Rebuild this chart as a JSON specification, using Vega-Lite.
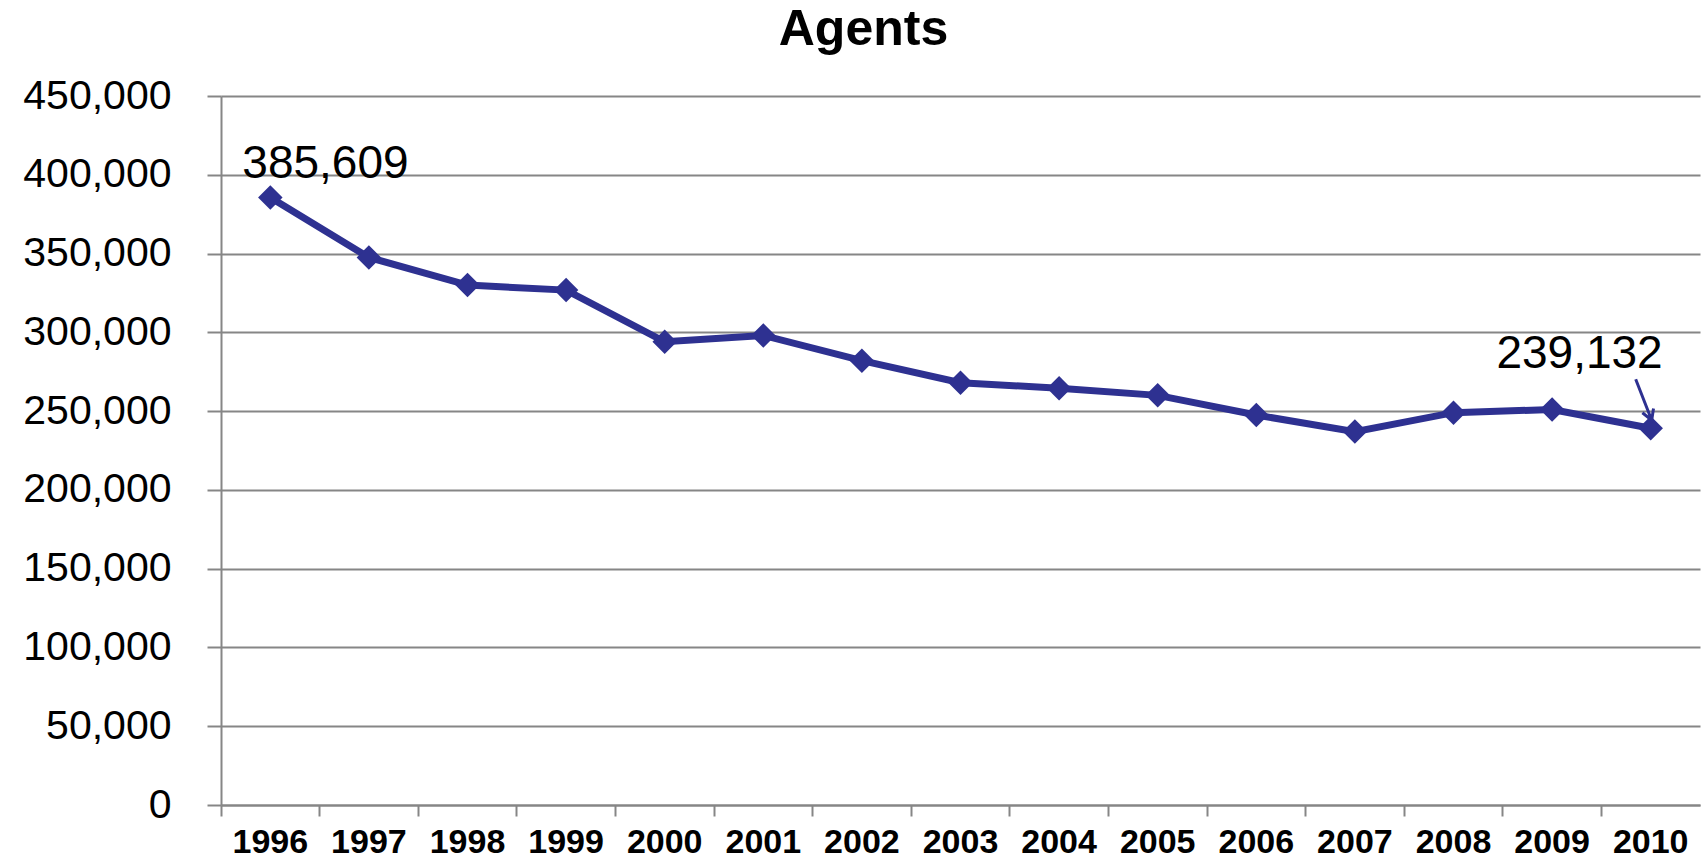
{
  "$schema": "https://vega.github.io/schema/vega-lite/v6.json",
  "width": 1479,
  "height": 709,
  "autosize": "none",
  "padding": {"left": 221, "top": 96, "right": 6, "bottom": 56},
  "background": "white",
  "config": {"view": {"stroke": null}, "font": "Liberation Sans"},
  "title": {"text": "Agents", "fontSize": 50, "fontWeight": "bold", "font": "Liberation Sans", "color": "#000000", "anchor": "middle", "dx": -97, "offset": -20, "baseline": "alphabetic"},
  "data": {"values": [
    {"year": "1996", "agents": 385609},
    {"year": "1997", "agents": 347500},
    {"year": "1998", "agents": 330000},
    {"year": "1999", "agents": 326800},
    {"year": "2000", "agents": 294000},
    {"year": "2001", "agents": 298000},
    {"year": "2002", "agents": 282000},
    {"year": "2003", "agents": 268000},
    {"year": "2004", "agents": 264500},
    {"year": "2005", "agents": 260000},
    {"year": "2006", "agents": 247500},
    {"year": "2007", "agents": 237000},
    {"year": "2008", "agents": 249000},
    {"year": "2009", "agents": 251000},
    {"year": "2010", "agents": 239132}
  ]},
  "encoding": {
    "x": {"field": "year", "type": "ordinal", "bandPosition": 0.5,
      "scale": {"type": "band", "paddingInner": 0, "paddingOuter": 0},
      "axis": {"title": null, "labelAngle": 0, "labelFontSize": 34, "labelFontWeight": "bold", "labelColor": "#000000", "labelPadding": 9, "bandPosition": 0, "ticks": true, "tickSize": 11, "tickColor": "#868686", "tickWidth": 2, "domainColor": "#868686", "domainWidth": 2, "grid": false}},
    "y": {"field": "agents", "type": "quantitative",
      "scale": {"domain": [0, 450000], "nice": false},
      "axis": {"title": null, "values": [0, 50000, 100000, 150000, 200000, 250000, 300000, 350000, 400000, 450000], "format": ",.0f", "labelFontSize": 41, "labelColor": "#000000", "labelPadding": 36, "tickSize": 14, "tickColor": "#868686", "tickWidth": 2, "grid": true, "gridColor": "#868686", "gridWidth": 2, "gridOpacity": 1, "domainColor": "#868686", "domainWidth": 2}}
  },
  "layer": [
    {"mark": {"type": "line", "color": "#2E3191", "strokeWidth": 7}},
    {"mark": {"type": "point", "shape": "diamond", "size": 600, "filled": true, "color": "#2E3191", "opacity": 1}},
    {"transform": [{"filter": "datum.year == '1996'"}],
     "mark": {"type": "text", "align": "left", "baseline": "alphabetic", "dx": -28, "dy": -19, "fontSize": 46, "color": "#000000"},
     "encoding": {"text": {"field": "agents", "type": "quantitative", "format": ",.0f"}}},
    {"transform": [{"filter": "datum.year == '2010'"}],
     "mark": {"type": "text", "align": "right", "baseline": "alphabetic", "dx": 12, "dy": -60, "fontSize": 46, "color": "#000000"},
     "encoding": {"text": {"field": "agents", "type": "quantitative", "format": ",.0f"}}},
    {"transform": [{"filter": "datum.year == '2010'"}],
     "mark": {"type": "point", "shape": "M-1.5,-4.9L0.1,-0.8M-0.83,-1.55L0.1,-0.8L0.28,-1.98", "size": 400, "filled": false, "color": "#2E3191", "strokeWidth": 3, "opacity": 1}}
  ]
}
